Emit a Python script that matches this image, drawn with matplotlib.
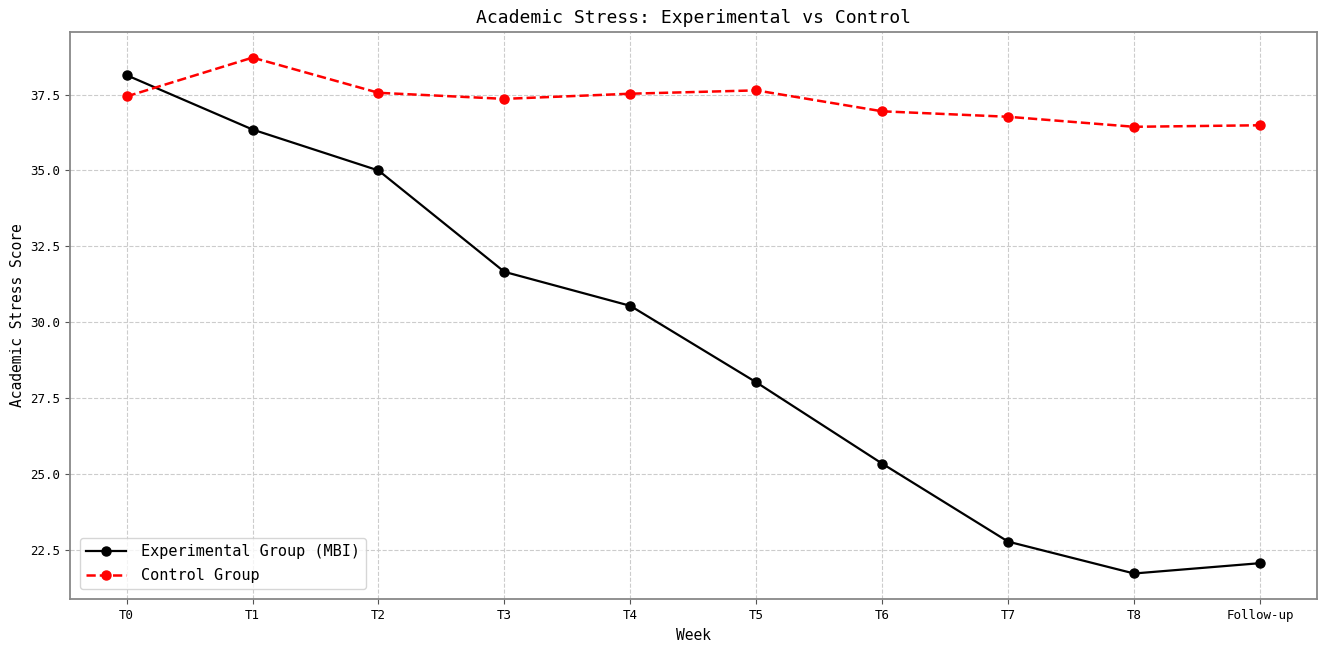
import matplotlib
matplotlib.use("Agg")
import matplotlib.pyplot as plt

# Data
weeks = ["T0", "T1", "T2", "T3", "T4", "T5", "T6", "T7", "T8", "Follow-up"]
experimental = [38.14, 36.35, 35.00, 31.66, 30.54, 28.02, 25.34, 22.77, 21.72, 22.06]
control = [37.44, 38.72, 37.56, 37.36, 37.53, 37.64, 36.95, 36.77, 36.44, 36.49]

plt.rcParams['font.family'] = ['DejaVu Sans Mono', 'DejaVu Sans']

fig, ax = plt.subplots(figsize=(13.25, 6.49), dpi=100)
fig.subplots_adjust(left=0.0528, right=0.9937, top=0.951, bottom=0.0766)

x = range(len(weeks))
ax.plot(x, experimental, color='black', marker='o', linestyle='-',
        linewidth=1.6, markersize=6.5, label='Experimental Group (MBI)')
ax.plot(x, control, color='red', marker='o', linestyle='--',
        linewidth=1.8, markersize=6.5, label='Control Group')

ax.set_xticks(list(x))
ax.set_xticklabels(weeks)
ax.tick_params(labelsize=9, color='#555555')

ax.set_title('Academic Stress: Experimental vs Control', fontsize=13)
ax.set_xlabel('Week', fontsize=10.5)
ax.set_ylabel('Academic Stress Score', fontsize=10.5)

ax.grid(True, linestyle='--', color='#cccccc', linewidth=0.8)
for s in ax.spines.values():
    s.set_color('#888888')
    s.set_linewidth(1.3)

ax.legend(loc='lower left', fontsize=11, handlelength=2.6, handletextpad=1.0,
          labelspacing=0.6, borderaxespad=0.65)

fig.savefig('out.png', dpi=100)
